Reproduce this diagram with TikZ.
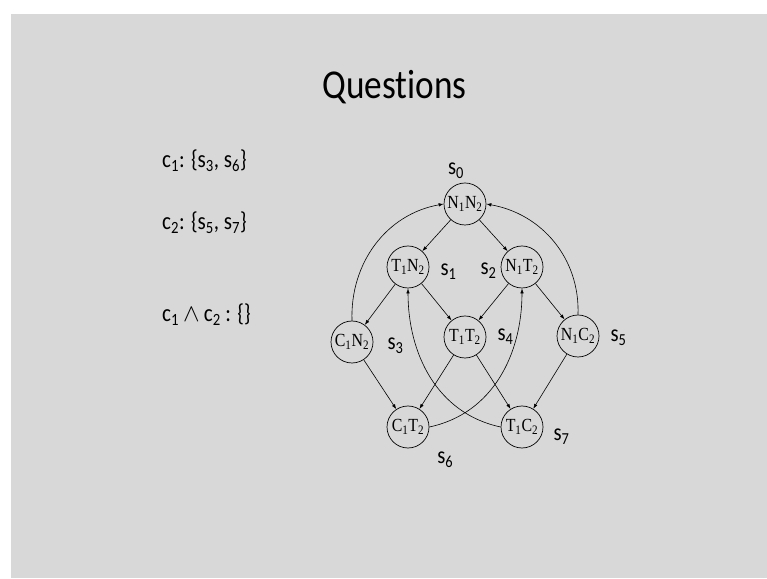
\documentclass[tikz,border=0pt]{standalone}
\usepackage{fontspec}
\setmainfont[FakeStretch=0.86, Ligatures=NoCommon]{Carlito}
\newfontfamily\statefont[FakeStretch=0.86]{Liberation Serif}
\usetikzlibrary{arrows.meta, positioning}
\definecolor{slidegray}{RGB}{216,216,216}
\newcommand{\sbs}[1]{\textsubscript{#1}}

\begin{document}
\begin{tikzpicture}[x=1pt, y=1pt,
  state/.style={circle, draw, line width=0.7pt, minimum size=42pt, inner sep=0pt, font=\statefont\fontsize{18.5}{18.5}\selectfont},
  lbl/.style={inner sep=0pt, font=\fontsize{24}{24}\selectfont},
  cond/.style={anchor=base west, inner sep=0pt, font=\fontsize{24.5}{28}\selectfont},
  arr/.style={-{Latex[length=5pt, width=3.5pt]}, line width=0.6pt}
]
\useasboundingbox (0,0) rectangle (767,578);
\fill[white] (0,0) rectangle (767,578);
\fill[slidegray] (11,0) rectangle (767,564);

\node[anchor=base, inner sep=0pt, font=\fontsize{41}{48}\selectfont] (title) at (394.5,479) {Questions};

% conditions
\node[cond] (c1) at (162,410) {c\sbs{1}: \{s\sbs{3}, s\sbs{6}\}};
\node[cond] (c2) at (162,348) {c\sbs{2}: \{s\sbs{5}, s\sbs{7}\}};
\node[cond] (c12) at (162,256) {c\sbs{1}\,$\wedge$\,c\sbs{2} : \{\}};

% states
\node[state] (n1n2) at (465,374) {N\sbs{1}N\sbs{2}};
\node[state] (t1n2) at (408,311) {T\sbs{1}N\sbs{2}};
\node[state] (n1t2) at (522,311) {N\sbs{1}T\sbs{2}};
\node[state] (c1n2) at (352,236) {C\sbs{1}N\sbs{2}};
\node[state] (t1t2) at (465,241) {T\sbs{1}T\sbs{2}};
\node[state] (n1c2) at (578,242) {N\sbs{1}C\sbs{2}};
\node[state] (c1t2) at (408,151) {C\sbs{1}T\sbs{2}};
\node[state] (t1c2) at (522,151) {T\sbs{1}C\sbs{2}};

% state names
\node[lbl, above=4pt of n1n2, xshift=-9pt] (s0) {s\sbs{0}};
\node[lbl, right=11pt of t1n2, yshift=-4.5pt] (s1) {s\sbs{1}};
\node[lbl, left=4pt of n1t2, yshift=-3.5pt] (s2) {s\sbs{2}};
\node[lbl, right=14pt of c1n2, yshift=-3.5pt] (s3) {s\sbs{3}};
\node[lbl, right=11pt of t1t2] (s4) {s\sbs{4}};
\node[lbl, right=11pt of n1c2, yshift=-1.5pt] (s5) {s\sbs{5}};
\node[lbl, below right=10pt and 14pt of c1t2] (s6) {s\sbs{6}};
\node[lbl, right=10pt of t1c2, yshift=-9.5pt] (s7) {s\sbs{7}};

\draw[arr] (n1n2) -- (t1n2);
\draw[arr] (n1n2) -- (n1t2);
\draw[arr] (t1n2) -- (c1n2);
\draw[arr] (t1n2) -- (t1t2);
\draw[arr] (n1t2) -- (t1t2);
\draw[arr] (n1t2) -- (n1c2);
\draw[arr] (c1n2) -- (c1t2);
\draw[arr] (t1t2) -- (c1t2);
\draw[arr] (t1t2) -- (t1c2);
\draw[arr] (n1c2) -- (t1c2);
\draw[arr] (c1n2.north) to[out=92, in=190] (n1n2.west);
\draw[arr] (n1c2.north) to[out=88, in=-10] (n1n2.east);
\draw[arr] (c1t2.east) to[out=12, in=-90] (n1t2.south);
\draw[arr] (t1c2.west) to[out=168, in=-90] (t1n2.south);
\end{tikzpicture}
\end{document}
